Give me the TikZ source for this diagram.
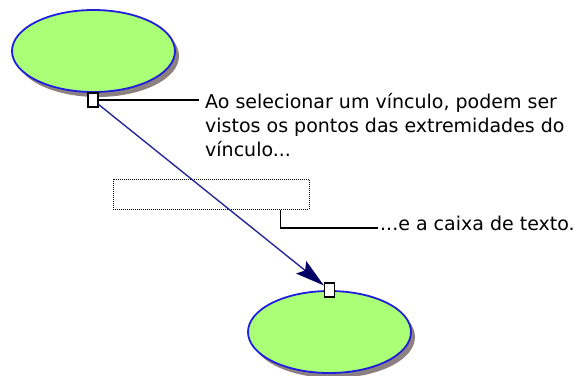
\documentclass[tikz,border=0pt]{standalone}
\usepackage{fontspec}
\setmainfont{DejaVu Sans}
\usetikzlibrary{arrows.meta,calc,shapes.geometric,shadows}
\definecolor{bubblegreen}{RGB}{170,255,119}
\definecolor{bubbleblue}{RGB}{30,30,220}
\definecolor{linkblue}{RGB}{40,40,150}
\definecolor{tipnavy}{RGB}{0,0,100}
\definecolor{shadowgray}{RGB}{140,128,128}

\begin{document}
\begin{tikzpicture}[x=1pt, y=-1pt,
  every node/.style={font=\fontsize{19}{24}\selectfont},
  bubble/.style={ellipse, draw=bubbleblue, line width=1.8pt, fill=bubblegreen,
    minimum width=163pt, minimum height=82pt, inner sep=0pt,
    drop shadow={shadow xshift=4pt, shadow yshift=-5pt, fill=shadowgray, opacity=1}},
  handle/.style={draw=black, line width=1.3pt, fill=white,
    minimum width=10pt, minimum height=14pt, inner sep=0pt},
  callout/.style={draw=black, line width=1.3pt},
  textbox/.style={draw=black, line width=1pt, dash pattern=on 1pt off 1pt,
    minimum width=196pt, minimum height=30pt, inner sep=0pt}]
  \useasboundingbox (0,0) rectangle (575,375);
  % the two bubbles
  \node[bubble] (top) at (93.5,51) {};
  \node[bubble] (bottom) at (329.5,332) {};
  % text box of the link
  \node[textbox] (tb) at (211,194) {};
  % handles at the ends of the link
  \node[handle] (h1) at (93,100) {};
  \node[handle] (h2) at (329.5,290) {};
  \draw[linkblue, line width=1.4pt,
    -{Stealth[length=29pt, width=16pt, inset=5pt, color=tipnavy]}] (h1) -- (h2);

  % notes
  \node[anchor=north west, align=left, inner xsep=6pt, inner ysep=0pt]
    (note1) at (199,91.2) {\strut Ao selecionar um vínculo, podem ser\\
    vistos os pontos das extremidades do\\ vínculo...};
  \draw[callout] (h1.east) -- (h1.east -| note1.west);
  \node[anchor=base west, inner xsep=2pt] (note2) at (378,230) {...e a caixa de texto.};
  \draw[callout] ($(tb.south west)!0.852!(tb.south east)$) |- ([yshift=2pt]note2.base west);
\end{tikzpicture}
\end{document}
